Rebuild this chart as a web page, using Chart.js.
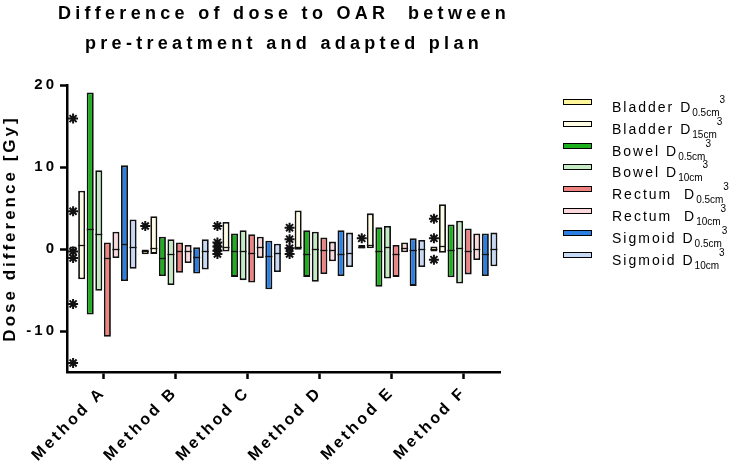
<!DOCTYPE html>
<html>
<head>
<meta charset="utf-8">
<script src="https://cdn.jsdelivr.net/npm/chart.js@4/dist/chart.umd.min.js"></script>
<style>
  body { margin: 0; background: #fff; font-family: "Liberation Sans", Arial, sans-serif; }
  #wrap { position: relative; width: 731px; height: 471px; overflow: hidden; }
  #title { position: absolute; left: 0; top: -2px; width: 568px; text-align: center; white-space: pre;
           font-weight: bold; font-size: 18px; letter-spacing: 4.3px; line-height: 30px; color: #000; }
  #legend { position: absolute; left: 563px; top: 92px; }
  .row { height: 21.8px; white-space: pre; position: relative; font-size: 14px; letter-spacing: 2px; color: #000; }
  .sw { position: absolute; left: 0; top: 7px; width: 27px; height: 4px; border: 1.6px solid #000; }
  .txt { position: absolute; left: 49px; top: 2px; }
  .txt sub { font-size: 10px; letter-spacing: 0; vertical-align: -4px; }
  .txt sup { font-size: 10px; letter-spacing: 0; vertical-align: 9px; }
</style>
</head>
<body>
<div id="wrap">
  <canvas id="chart" width="731" height="471"></canvas>
  <div id="title">Difference of dose to OAR  between
pre-treatment and adapted plan</div>
  <div id="legend"></div>
</div>
<script>
var methods = ['Method A', 'Method B', 'Method C', 'Method D', 'Method E', 'Method F'];

// [low, high] of each box, and its median line
var bladder05 = [[-0.3, 0.3], [-0.65, 0.0], [-0.3, 0.3], [-0.2, 0.3], [0.0, 0.5], [-0.3, 0.3]];
var bladder05Med = [0.0, -0.3, 0.0, 0.0, 0.2, 0.0];
var bladder15 = [[-3.7, 7.1], [-0.6, 4.0], [-0.3, 3.3], [-0.1, 4.7], [0.1, 4.35], [-0.45, 5.45]];
var bladder15Med = [0.5, 0.1, 0.25, 0.3, 0.5, 0.35];
var bowel05 = [[-8.0, 19.1], [-3.3, 1.5], [-3.4, 1.9], [-3.4, 2.3], [-4.6, 2.65], [-3.45, 3.0]];
var bowel05Med = [2.4, -1.1, -0.3, -0.65, -0.3, -0.15];
var bowel10 = [[-5.1, 9.6], [-4.4, 1.2], [-3.8, 2.3], [-4.0, 2.1], [-3.6, 2.8], [-4.2, 3.45]];
var bowel10Med = [1.8, -0.65, -0.25, 0.0, 0.3, 0.1];
var rectum05 = [[-10.7, 0.8], [-2.9, 0.8], [-4.1, 1.8], [-3.05, 1.4], [-3.4, 0.5], [-3.1, 2.5]];
var rectum05Med = [-1.1, -0.2, -0.5, -0.1, -0.6, -0.2];
var rectum10 = [[-1.1, 2.1], [-1.7, 0.5], [-1.1, 1.5], [-1.5, 0.9], [-0.4, 0.8], [-1.35, 1.9]];
var rectum10Med = [0.0, -0.3, 0.3, -0.1, 0.15, 0.0];
var sigmoid05 = [[-3.9, 10.2], [-3.0, 0.2], [-4.9, 1.0], [-3.3, 2.3], [-4.5, 1.3], [-3.3, 1.9]];
var sigmoid05Med = [0.6, -1.0, -0.85, -0.65, -0.1, -0.6];
var sigmoid10 = [[-2.4, 3.6], [-2.5, 1.2], [-2.8, 0.65], [-2.2, 2.0], [-2.2, 1.1], [-2.1, 2.0]];
var sigmoid10Med = [0.3, -0.2, -0.45, -0.45, 0.0, 0.0];

// outliers (asterisks), all belong to Bladder D0.5cm3
var bladder05Outliers = [[15.9, 4.6, -0.3, -1.1, -6.7, -13.9], [2.8], [2.8, 0.8, 0.3, -0.2, -0.6],
                         [2.6, 1.2, 0.1, -0.6], [1.3], [3.7, 1.3, -1.3]];

var yTicks = [-10, 0, 10, 20];

var series = [
    { organ: 'Bladder D', sub: '0.5cm', box: bladder05, med: bladder05Med, color: '#FFF59A', out: bladder05Outliers },
    { organ: 'Bladder D', sub: '15cm',  box: bladder15, med: bladder15Med, color: '#FFFCE6' },
    { organ: 'Bowel D',   sub: '0.5cm', box: bowel05,   med: bowel05Med,   color: '#1DAF1D' },
    { organ: 'Bowel D',   sub: '10cm',  box: bowel10,   med: bowel10Med,   color: '#C5EBC5' },
    { organ: 'Rectum  D', sub: '0.5cm', box: rectum05,  med: rectum05Med,  color: '#F08282' },
    { organ: 'Rectum  D', sub: '10cm',  box: rectum10,  med: rectum10Med,  color: '#FAD8DB' },
    { organ: 'Sigmoid D', sub: '0.5cm', box: sigmoid05, med: sigmoid05Med, color: '#2C7FE2' },
    { organ: 'Sigmoid D', sub: '10cm',  box: sigmoid10, med: sigmoid10Med, color: '#C7D9F5' }
];

// html legend (needs sub/superscripts)
var legendEl = document.getElementById('legend');
series.forEach(function(s) {
    var row = document.createElement('div');
    row.className = 'row';
    row.innerHTML = '<span class="sw" style="background:' + s.color + '"></span>' +
        '<span class="txt">' + s.organ + '<sub>' + s.sub + '</sub><sup>3</sup></span>';
    legendEl.appendChild(row);
});

var datasets = series.map(function(s) {
    return {
        label: s.organ + ' ' + s.sub,
        data: s.box,
        backgroundColor: s.color,
        borderColor: '#111',
        borderWidth: 1.8,
        borderSkipped: false,
        categoryPercentage: 0.95,
        barPercentage: 0.82
    };
});

// median line across every box, outlier asterisks on top of their bar
var boxExtras = {
    id: 'boxExtras',
    afterDatasetsDraw: function(chart) {
        var ctx = chart.ctx, y = chart.scales.y;
        ctx.save();
        ctx.strokeStyle = '#111';
        series.forEach(function(s, k) {
            chart.getDatasetMeta(k).data.forEach(function(bar, i) {
                ctx.lineWidth = 1.3;
                var py = Math.round(y.getPixelForValue(s.med[i])) + 0.5;
                ctx.beginPath();
                ctx.moveTo(bar.x - bar.width / 2, py);
                ctx.lineTo(bar.x + bar.width / 2, py);
                ctx.stroke();
                if (s.out) {
                    ctx.lineWidth = 2;
                    s.out[i].forEach(function(v) {
                        Chart.helpers.drawPoint(ctx, { pointStyle: 'star', radius: 5, borderWidth: 2 },
                            bar.x, y.getPixelForValue(v));
                    });
                }
            });
        });
        ctx.restore();
    }
};

var spacing = {
    id: 'spacing',
    beforeLayout: function(chart) { chart.ctx.letterSpacing = '3px'; },
    beforeDraw: function(chart) { chart.ctx.letterSpacing = '3px'; }
};

new Chart(document.getElementById('chart'), {
    type: 'bar',
    data: { labels: methods, datasets: datasets },
    plugins: [spacing, boxExtras],
    options: {
        responsive: false,
        animation: false,
        layout: { padding: { top: 85, right: 231, left: 0, bottom: 0 } },
        plugins: { legend: { display: false }, tooltip: { enabled: false } },
        scales: {
            x: {
                offset: true,
                grid: { display: true, offset: false, drawOnChartArea: false, tickLength: 7, tickWidth: 2.5, tickColor: '#000' },
                border: { display: true, color: '#000', width: 2.5 },
                ticks: { autoSkip: false, maxRotation: 45, minRotation: 45, color: '#000', padding: 4,
                         font: { family: 'Liberation Sans', size: 16, weight: 'bold' } },
                afterFit: function(scale) { scale.height = 99; }
            },
            y: {
                min: -15, max: 20,
                grid: { display: true, drawOnChartArea: false, tickLength: 7, tickWidth: 2.5, tickColor: '#000' },
                border: { display: true, color: '#000', width: 2.5 },
                ticks: { stepSize: 10, color: '#000', padding: 3,
                         font: { family: 'Liberation Sans', size: 15, weight: 'bold' } },
                afterBuildTicks: function(scale) {
                    scale.ticks = yTicks.map(function(v) { return { value: v }; });
                },
                title: { display: true, text: 'Dose difference [Gy]', color: '#000', padding: 0,
                         font: { family: 'Liberation Sans', size: 17, weight: 'bold' } },
                afterFit: function(scale) { scale.width = 67; }
            }
        }
    }
});
</script>
</body>
</html>
